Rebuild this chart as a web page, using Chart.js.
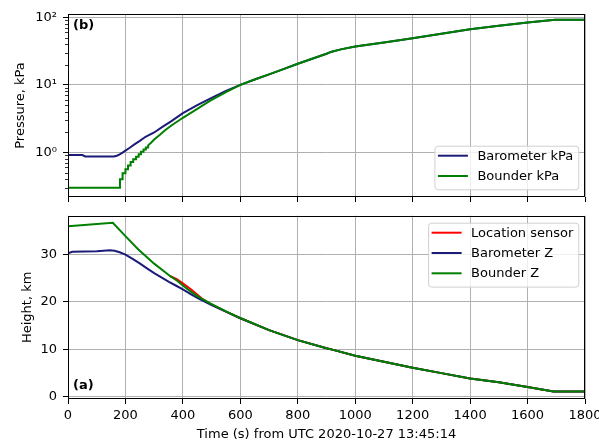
<!DOCTYPE html>
<html><head><meta charset="utf-8">
<script src="https://cdn.jsdelivr.net/npm/chart.js@4/dist/chart.umd.min.js"></script>
<style>
html,body{margin:0;padding:0;background:#fff;}
#wrap{position:relative;width:599px;height:444px;overflow:hidden;background:#fff;}
canvas{position:absolute;left:0;}
#cTop{top:0}
#cBot{top:205px}
</style></head><body>
<div id="wrap"><canvas id="cTop" width="599" height="205"></canvas><canvas id="cBot" width="599" height="239"></canvas></div>
<script>
// ---------------- data ----------------
const xTicks = [0,200,400,600,800,1000,1200,1400,1600,1800];
const pressMajorTicks = [1,10,100];
const pressMinorTicks = [0.3,0.4,0.5,0.6,0.7,0.8,0.9,2,3,4,5,6,7,8,9,20,30,40,50,60,70,80,90];
const heightTicks = [0,10,20,30];

// (b) pressure, kPa
const baroPressTime = [0,50,60,160,170,180,190,200,215,230,250,270,300,330,360,400,450,500,550,600,650,700,750,800,850,900,918,950,1000,1100,1200,1300,1400,1500,1600,1696,1800];
const baroPress     = [0.91,0.91,0.87,0.87,0.89,0.93,0.99,1.06,1.17,1.30,1.48,1.70,1.97,2.4,2.9,3.8,5.0,6.4,8.1,10.0,12.0,14.3,17.1,20.5,24.3,28.9,31.0,33.5,36.9,42.5,49,57,66.5,75,84,92,92];

const bounderPressTime = [0,181,181,190,190,200,200,209,209,218,218,227,227,237,237,246,246,254,254,263,263,271,271,279,279,290,300,320,338,360,400,450,494,550,600,650,700,750,800,850,900,918,950,1000,1100,1200,1300,1400,1500,1600,1696,1800];
const bounderPress     = [0.3,0.3,0.4,0.4,0.49,0.49,0.56,0.56,0.64,0.64,0.72,0.72,0.79,0.79,0.86,0.86,0.94,0.94,1.02,1.02,1.1,1.1,1.18,1.18,1.27,1.4,1.55,1.82,2.12,2.5,3.25,4.4,5.8,7.8,10.0,12.0,14.3,17.1,20.5,24.3,28.9,31.0,33.5,36.9,42.5,49,57,66.5,75,84,92,92];

// (a) height, km
const locTime = [355,380,401,430,465,500,550,600,700,800,900,920,1000,1100,1200,1300,1400,1500,1600,1690,1800];
const locZ    = [25.4,24.7,23.8,22.5,20.7,19.4,17.9,16.5,14.0,11.9,10.2,9.9,8.6,7.35,6.1,4.95,3.8,3.05,2.05,1.1,1.1];

const baroZTime = [0,15,100,146,162,180,200,225,251,275,300,325,350,375,400,430,460,500,550,600,700,800,900,920,1000,1100,1200,1300,1400,1500,1600,1690,1800];
const baroZ     = [30.2,30.5,30.6,30.8,30.7,30.4,29.9,29.0,28.0,27.0,26.0,25.1,24.2,23.4,22.6,21.5,20.5,19.3,17.9,16.5,14.0,11.9,10.2,9.9,8.6,7.35,6.1,4.95,3.8,3.05,2.05,1.1,1.1];

const bounderZTime = [0,156,200,245,300,343,355,380,401,430,460,500,550,600,700,800,900,920,1000,1100,1200,1300,1400,1500,1600,1690,1800];
const bounderZ     = [35.9,36.6,33.8,31.0,28.0,26.0,25.4,24.4,23.35,22.0,20.8,19.5,17.95,16.55,14.0,11.9,10.2,9.9,8.6,7.35,6.1,4.95,3.8,3.05,2.05,1.1,1.1];

// ---------------- rendering ----------------
const FONT = '"DejaVu Sans", sans-serif';
const FS = 13;
Chart.defaults.font.family = FONT;
Chart.defaults.font.size = FS;
Chart.defaults.color = '#000';
Chart.defaults.animation = false;

const toXY = (xs, ys) => xs.map((x, i) => ({x: x, y: ys[i]}));
const sup = {0:'⁰',1:'¹',2:'²',3:'³'};
const GRID = '#b0b0b0';

const decor = {
  id: 'decor',
  afterDraw(chart, args, o) {
    const ctx = chart.ctx, a = chart.chartArea;
    ctx.save();
    // minor ticks
    if (o.minor) {
      const ys = chart.scales.y;
      ctx.strokeStyle = '#000'; ctx.lineWidth = 0.8;
      o.minor.forEach(v => {
        const py = Math.round(ys.getPixelForValue(v)) + 0.5;
        ctx.beginPath(); ctx.moveTo(a.left - 3, py); ctx.lineTo(a.left, py); ctx.stroke();
      });
    }
    // frame
    ctx.strokeStyle = '#000'; ctx.lineWidth = 1;
    ctx.strokeRect(Math.round(a.left) + 0.5, Math.round(a.top) + 0.5, Math.round(a.right - a.left) - 1, Math.round(a.bottom - a.top) - 1);
    // panel label
    ctx.font = 'bold ' + FS + 'px ' + FONT; ctx.fillStyle = '#000'; ctx.textBaseline = 'middle'; ctx.textAlign = 'left';
    ctx.fillText(o.panel, a.left + 5, o.panelTop ? a.top + 11.5 : a.bottom - 13);
    // legend
    ctx.font = FS + 'px ' + FONT;
    const ds = chart.data.datasets;
    const labels = o.legendOrder.map(i => ds[i]);
    const maxW = Math.max(...labels.map(d => ctx.measureText(d.label).width));
    const rowH = 20.3;
    const w = 43 + maxW + 5, h = labels.length * rowH + 3;
    const right = a.right - 6.7;
    const left = right - w;
    const top = o.legendBottom ? a.bottom - 7.7 - h : a.top + 7;
    ctx.beginPath();
    if (ctx.roundRect) ctx.roundRect(left + 0.5, top + 0.5, w, h, 3); else ctx.rect(left + 0.5, top + 0.5, w, h);
    ctx.fillStyle = 'rgba(255,255,255,0.8)'; ctx.fill();
    ctx.strokeStyle = '#d0d0d0'; ctx.lineWidth = 1; ctx.stroke();
    labels.forEach((d, i) => {
      const yy = top + 10 + i * rowH;
      ctx.strokeStyle = d.borderColor; ctx.lineWidth = 2;
      ctx.beginPath(); ctx.moveTo(left + 3.5, yy); ctx.lineTo(left + 33.5, yy); ctx.stroke();
      ctx.fillStyle = '#000'; ctx.textBaseline = 'middle';
      ctx.fillText(d.label, left + 43, yy + 0.5);
    });
    ctx.restore();
  }
};

function xScale(showLabels, height) {
  return {
    type: 'linear', min: 0, max: 1800,
    afterBuildTicks: s => { s.ticks = xTicks.map(v => ({value: v})); },
    ticks: {display: showLabels, autoSkip: false, maxRotation: 0, padding: 3.5, font: {size: FS},
      callback: v => String(v)},
    grid: {color: GRID, lineWidth: 1, tickColor: '#000', tickLength: 5, drawTicks: true},
    border: {display: false},
    title: showLabels ? {display: true, text: 'Time (s) from UTC 2020-10-27 13:45:14', font: {size: FS}, padding: {top: 0, bottom: 1.2}} : {display: false},
    afterFit: s => { s.height = height; s.paddingLeft = 0; s.paddingRight = 0; }
  };
}

new Chart(document.getElementById('cTop'), {
  type: 'line',
  data: {
    datasets: [
      {label: 'Barometer kPa', data: toXY(baroPressTime, baroPress), borderColor: '#1c1c78', borderWidth: 2, pointRadius: 0, tension: 0, fill: false, order: 2},
      {label: 'Bounder kPa', data: toXY(bounderPressTime, bounderPress), borderColor: '#008000', borderWidth: 2, pointRadius: 0, tension: 0, fill: false, order: 1}
    ]
  },
  options: {
    responsive: false, devicePixelRatio: 1, animation: false,
    layout: {padding: {top: 14, right: 14, bottom: 0, left: 0}},
    plugins: {legend: {display: false}, tooltip: {enabled: false},
      decor: {panel: '(b)', panelTop: true, legendBottom: true, legendOrder: [0, 1], minor: pressMinorTicks}},
    scales: {
      x: xScale(false, 8),
      y: {
        type: 'logarithmic', min: 0.218, max: 112,
        afterBuildTicks: s => { s.ticks = pressMajorTicks.map(v => ({value: v})); },
        ticks: {autoSkip: false, padding: 6, font: {size: FS},
          callback: v => { const e = Math.round(Math.log10(v)); return '10' + sup[e]; }},
        grid: {color: GRID, lineWidth: 1, tickColor: '#000', tickLength: 5},
        border: {display: false},
        title: {display: true, text: 'Pressure, kPa', font: {size: FS}, padding: {top: 12.7, bottom: 0}},
        afterFit: s => { s.width = 68; s.paddingTop = 0; s.paddingBottom = 0; }
      }
    }
  },
  plugins: [decor]
});

new Chart(document.getElementById('cBot'), {
  type: 'line',
  data: {
    datasets: [
      {label: 'Location sensor', data: toXY(locTime, locZ), borderColor: '#ff0000', borderWidth: 2, pointRadius: 0, tension: 0, fill: false, order: 3},
      {label: 'Barometer Z', data: toXY(baroZTime, baroZ), borderColor: '#1c1c78', borderWidth: 2, pointRadius: 0, tension: 0, fill: false, order: 2},
      {label: 'Bounder Z', data: toXY(bounderZTime, bounderZ), borderColor: '#008000', borderWidth: 2, pointRadius: 0, tension: 0, fill: false, order: 1}
    ]
  },
  options: {
    responsive: false, devicePixelRatio: 1, animation: false,
    layout: {padding: {top: 10.7, right: 14, bottom: 0, left: 0}},
    plugins: {legend: {display: false}, tooltip: {enabled: false},
      decor: {panel: '(a)', panelTop: false, legendBottom: false, legendOrder: [0, 1, 2]}},
    scales: {
      x: xScale(true, 45),
      y: {
        type: 'linear', min: -0.5, max: 38.1,
        afterBuildTicks: s => { s.ticks = heightTicks.map(v => ({value: v})); },
        ticks: {autoSkip: false, padding: 6, font: {size: FS}, callback: v => String(v)},
        grid: {color: GRID, lineWidth: 1, tickColor: '#000', tickLength: 5},
        border: {display: false},
        title: {display: true, text: 'Height, km', font: {size: FS}, padding: {top: 19.7, bottom: 0}},
        afterFit: s => { s.width = 68; s.paddingTop = 0; s.paddingBottom = 0; }
      }
    }
  },
  plugins: [decor]
});
</script>
</body></html>
